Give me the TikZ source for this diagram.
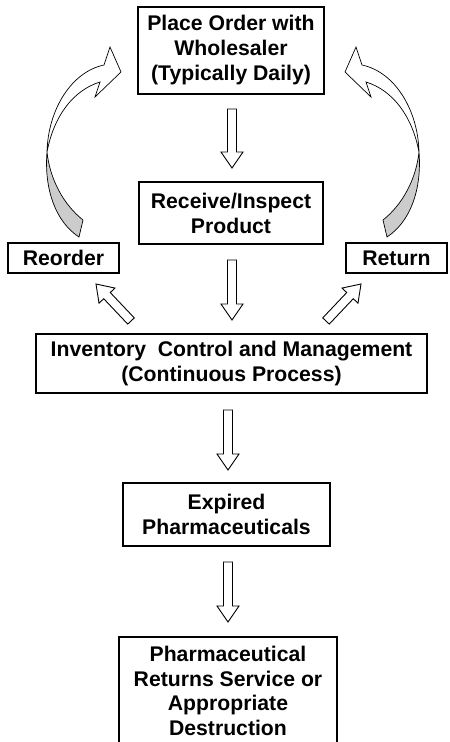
\documentclass[tikz,border=0pt]{standalone}
\usepackage{fontspec}
\setmainfont{Liberation Sans}
\usetikzlibrary{calc}

% hollow block arrow from #1 (tail) to #2 (tip)
\newcommand{\blockarr}[2]{%
  \filldraw[blockarrow] let \p1=($(#2)-(#1)$), \n1={veclen(\x1,\y1)}, \n2={atan2(\y1,\x1)} in
    ($(#1)+({\n2+90}:4.5pt)$)
    -- ($(#1)+({\n2}:{\n1-16pt})+({\n2+90}:4.5pt)$)
    -- ($(#1)+({\n2}:{\n1-16pt})+({\n2+90}:11pt)$)
    -- (#2)
    -- ($(#1)+({\n2}:{\n1-16pt})+({\n2-90}:11pt)$)
    -- ($(#1)+({\n2}:{\n1-16pt})+({\n2-90}:4.5pt)$)
    -- ($(#1)+({\n2-90}:4.5pt)$) -- cycle;}

% curved, twisted ribbon arrow (drawn for the right side, mirrored for the left)
\newcommand{\curvedribbon}{%
  \filldraw[ribbon, fill=gray!40] (419,152) .. controls (422,190) and (410,222) .. (387,237)
    -- (383,220) .. controls (402,205) and (416,180) .. (419,152) -- cycle;
  \filldraw[ribbon, fill=white] (345,72) -- (356,47) -- (362,65)
    .. controls (395,72) and (418,110) .. (419,152)
    .. controls (412,115) and (392,90) .. (366,82) -- (371,97) -- cycle;}

\begin{document}
\begin{tikzpicture}[x=1pt, y=-1pt,
  box/.style={draw, line width=1.8pt, fill=white, align=center, inner sep=0pt,
    font=\fontsize{21.2}{25}\selectfont\bfseries},
  blockarrow/.style={draw, fill=white, line width=0.9pt, line join=miter},
  ribbon/.style={draw, line width=0.7pt, line join=miter}]
\useasboundingbox (0,0) rectangle (450,742);
\clip (0,0) rectangle (450,742);

% process boxes
\node[box, minimum width=186pt, minimum height=87pt] (place) at (231,50.5)
  {Place Order with\\Wholesaler\\(Typically Daily)};
\node[box, minimum width=184pt, minimum height=62pt] (receive) at (231,213)
  {Receive/Inspect\\Product};
\node[box, minimum width=111pt, minimum height=30pt] (reorder) at (63.5,258) {Reorder};
\node[box, minimum width=101pt, minimum height=30pt] (return) at (396.5,258) {Return};
\node[box, minimum width=391pt, minimum height=59pt] (inventory) at (231.5,363.5)
  {Inventory\ \ Control and Management\\(Continuous Process)};
\node[box, minimum width=207pt, minimum height=63pt] (expired) at (226.5,514.5)
  {Expired\\Pharmaceuticals};
\node[box, minimum width=218pt, minimum height=126pt,
  font=\fontsize{21.2}{24.5}\selectfont\bfseries] (destruction) at (228,700)
  {};
\node[align=center, inner sep=0pt, font=\fontsize{21.2}{24.5}\selectfont\bfseries]
  (destructiontext) at (228,691)
  {Pharmaceutical\\Returns Service or\\Appropriate\\Destruction};

% ends of the block arrows
\coordinate (a1s) at (232,109); \coordinate (a1e) at (232,168);
\coordinate (a2s) at (232,260); \coordinate (a2e) at (232,320);
\coordinate (a3s) at (228,410); \coordinate (a3e) at (228,470);
\coordinate (a4s) at (228,562); \coordinate (a4e) at (228,622);
\coordinate (ls) at (131,321);  \coordinate (le) at (96,284);
\coordinate (rs) at (326,321);  \coordinate (re) at (361,284);

\blockarr{a1s}{a1e}
\blockarr{a2s}{a2e}
\blockarr{a3s}{a3e}
\blockarr{a4s}{a4e}
\blockarr{ls}{le}
\blockarr{rs}{re}

% curved return arrows back to the order box
\begin{scope}
  \curvedribbon
\end{scope}
\begin{scope}[shift={(466,0)}, xscale=-1]
  \curvedribbon
\end{scope}
\end{tikzpicture}
\end{document}
